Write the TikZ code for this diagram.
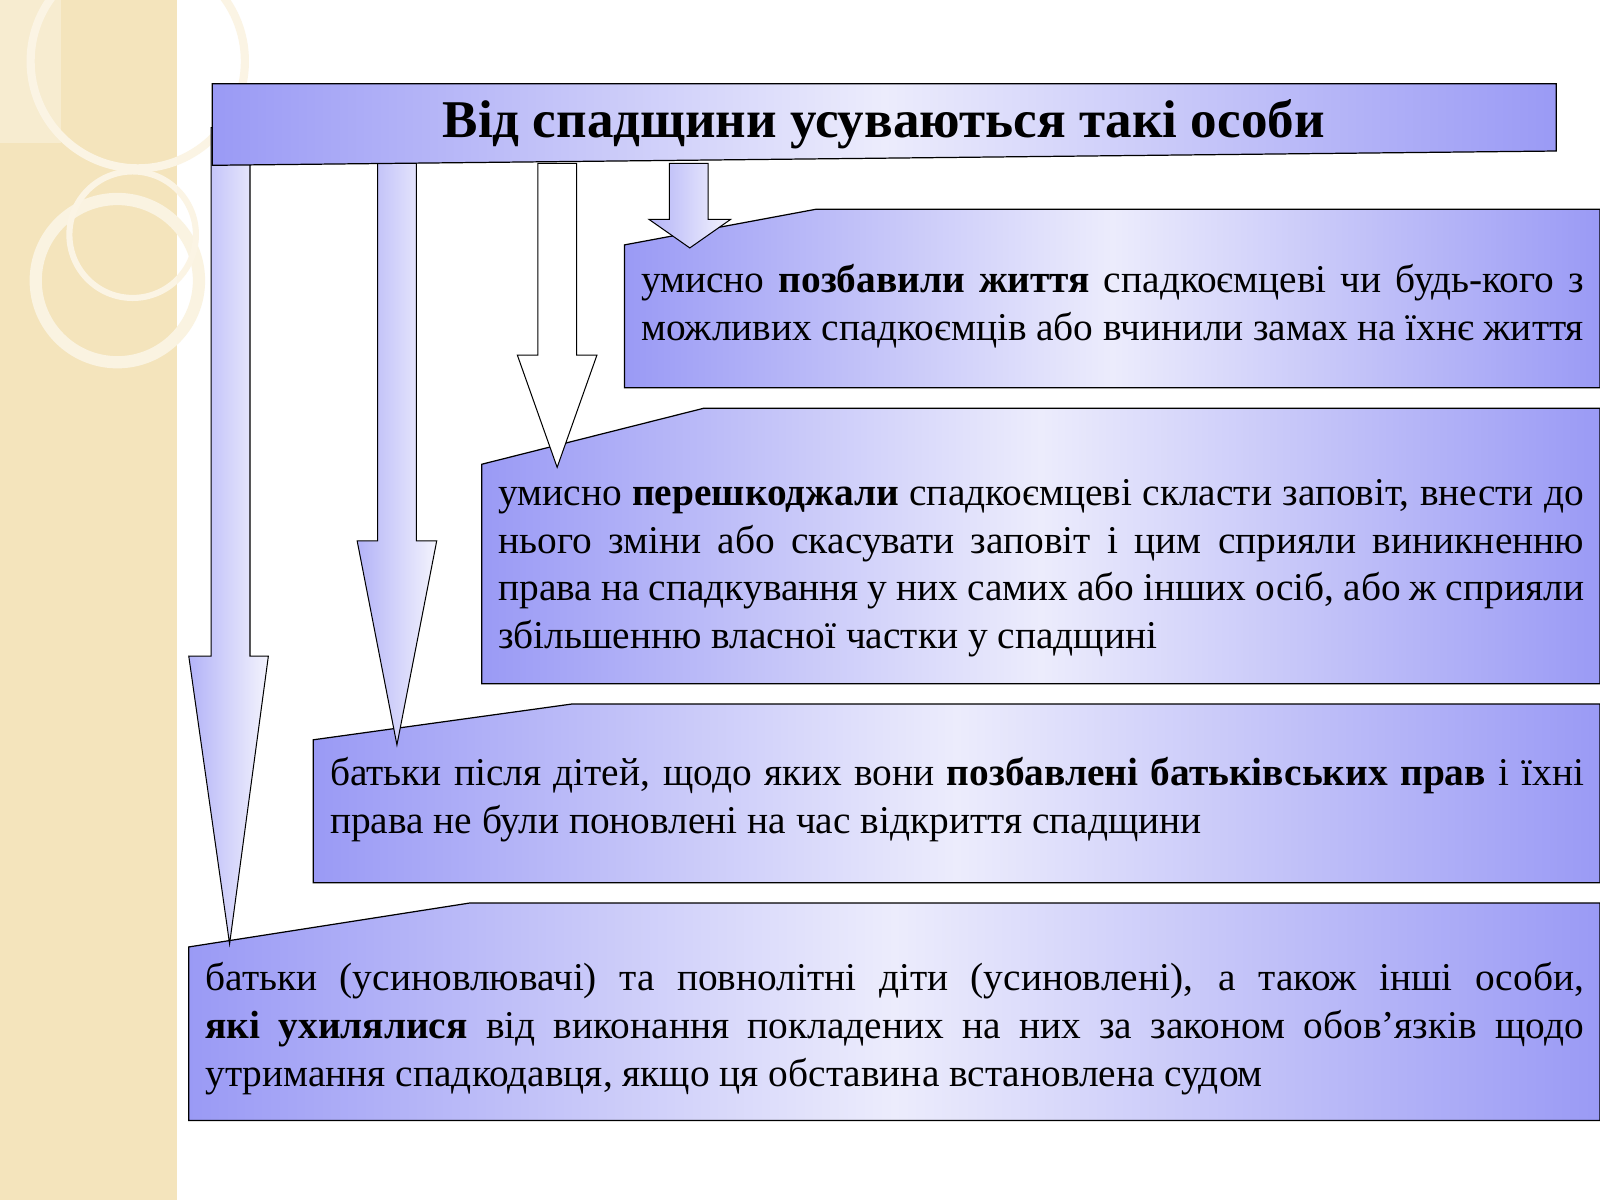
\documentclass[tikz,border=0pt]{standalone}
\usepackage{fontspec}
\setmainfont{Liberation Serif}
\usetikzlibrary{shadings}
\definecolor{peri}{HTML}{9A9AF5}
\definecolor{pale}{HTML}{ECECFC}
\definecolor{beige}{HTML}{F4E4BC}
\tikzset{
 box/.style={draw=black,line width=0.6pt,left color=peri,right color=peri,middle color=pale,shading angle=90},
 arr/.style={draw=black,line width=0.5pt,left color=peri!75,right color=pale!60!white},
 warr/.style={draw=black,line width=0.5pt,fill=white},
 txt/.style={anchor=north west,inner sep=0pt,align=justify,font=\fontsize{19.3pt}{23.5pt}\selectfont}
}
\begin{document}
\begin{tikzpicture}[x=0.5pt,y=-0.5pt]
\useasboundingbox (0,0) rectangle (1568,1176);
\fill[white] (0,0) rectangle (1568,1176);
\fill[beige] (0,0) rectangle (173,1176);
\fill[beige!70!white] (0,0) rectangle (60,140);
\draw[white!60!beige,line width=4pt] (135,60) circle (105);
\draw[white!55!beige,line width=6pt] (115,275) circle (80);
\draw[white!60!beige,line width=3pt] (130,230) circle (62);
% boxes
\path[box] (612,240)--(800,205)--(1568,205)--(1568,380)--(612,380)--cycle;
\path[box] (472,455)--(690,400)--(1568,400)--(1568,670)--(472,670)--cycle;
\path[box] (307,725)--(560,690)--(1568,690)--(1568,865)--(307,865)--cycle;
\path[box] (185,928)--(460,885)--(1568,885)--(1568,1098)--(185,1098)--cycle;
% arrows
\path[arr] (207,125)--(245,125)--(245,643)--(263,643)--(225,925)--(185,643)--(207,643)--cycle;
\path[arr] (370,160)--(408,160)--(408,530)--(428,530)--(389,730)--(350,530)--(370,530)--cycle;
\path[warr] (527,160)--(565,160)--(565,348)--(585,348)--(546,458)--(507,348)--(527,348)--cycle;
\path[arr] (656,160)--(694,160)--(694,215)--(716,215)--(676,243)--(636,215)--(656,215)--cycle;
% title
\path[box] (208,82)--(1525,82)--(1525,148)--(208,162)--cycle;
\node[font=\bfseries\fontsize{26pt}{28pt}\selectfont] (title) at (866,122) {Від спадщини усуваються такі особи};
\node[txt,text width=462pt] (t1) at (628,259) {умисно \textbf{позбавили життя} спадкоємцеві чи будь-кого з можливих спадкоємців або вчинили замах на їхнє життя};
\node[txt,text width=532pt] (t2) at (488,469) {умисно \textbf{перешкоджали} спадкоємцеві скласти заповіт, внести до нього зміни або скасувати заповіт і цим сприяли виникненню права на спадкування у них самих або інших осіб, або ж сприяли збільшенню власної частки у спадщині};
\node[txt,text width=614.5pt] (t3) at (323,742) {батьки після дітей, щодо яких вони \textbf{позбавлені батьківських прав} і їхні права не були поновлені на час відкриття спадщини};
\node[txt,text width=675.5pt] (t4) at (201,943) {батьки (усиновлювачі) та повнолітні діти (усиновлені), а також інші особи, \textbf{які ухилялися} від виконання покладених на них за законом обов’язків щодо утримання спадкодавця, якщо ця обставина встановлена судом};
\end{tikzpicture}
\end{document}
